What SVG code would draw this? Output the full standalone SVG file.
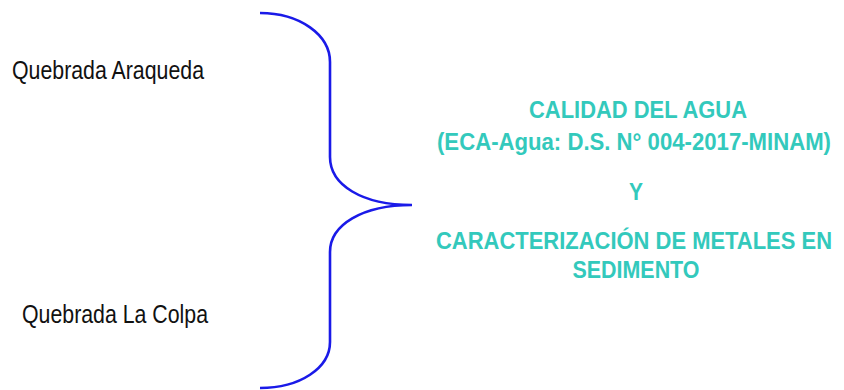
<svg xmlns="http://www.w3.org/2000/svg" width="844" height="390" viewBox="0 0 844 390">
<style>
.lbl{font-family:"Liberation Sans",Arial,sans-serif;font-size:25px;fill:#111}
.t{font-family:"Liberation Sans",Arial,sans-serif;font-size:21px;font-weight:bold;fill:#33C9BC;text-anchor:middle}
.brace{fill:none;stroke:#1a1ae8;stroke-width:2.6}
</style>
<rect width="844" height="390" fill="#fff"/>
<g id="n1"><text class="lbl" x="12" y="79" textLength="192" lengthAdjust="spacingAndGlyphs">Quebrada Araqueda</text></g>
<g id="n2"><text class="lbl" x="22" y="323" textLength="186" lengthAdjust="spacingAndGlyphs">Quebrada La Colpa</text></g>
<g id="connectors">
<path class="brace" d="M260,13 C300,13 330,35 330,62 L330,157 C330,185 362,205 412,205 C362,205 330,225 330,252 L330,342 C330,368 300,388 260,388"/>
</g>
<g id="n3" transform="translate(0,-17.5) scale(1,1.13)">
<text class="t" x="638" y="120" textLength="218" lengthAdjust="spacingAndGlyphs">CALIDAD  DEL AGUA</text>
<text class="t" x="634" y="148.3" textLength="394" lengthAdjust="spacingAndGlyphs">(ECA-Agua: D.S. N° 004-2017-MINAM)</text>
<text class="t" x="636" y="192.5">Y</text>
<text class="t" x="634" y="235.8" textLength="396" lengthAdjust="spacingAndGlyphs">CARACTERIZACIÓN  DE METALES  EN</text>
<text class="t" x="636" y="261.5" textLength="127" lengthAdjust="spacingAndGlyphs">SEDIMENTO</text>
</g>
</svg>
